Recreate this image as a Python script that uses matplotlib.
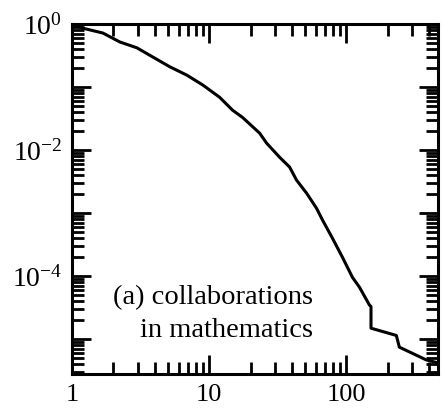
import math
import matplotlib
matplotlib.use("Agg")
import matplotlib.pyplot as plt
from matplotlib.ticker import LogLocator, FuncFormatter, NullFormatter

plt.rcParams['font.family'] = ['Liberation Serif', 'DejaVu Serif']
plt.rcParams['mathtext.fontset'] = 'custom'
plt.rcParams['mathtext.rm'] = 'Liberation Serif'
plt.rcParams['mathtext.it'] = 'Liberation Serif:italic'

# cumulative distribution of number of collaborators
collaborators = [1, 1.2, 1.68, 2.23, 2.97, 3.88, 5.16, 6.86, 8.97, 11.9, 14.8,
                 17.5, 23.3, 26.2, 32.6, 38.5, 43.3, 51.2, 60.5, 66.9, 79.1,
                 93.5, 110.6, 124.4, 147, 151, 151, 231, 243, 302, 382, 451]
cumulative = [1.0, 0.86, 0.72, 0.52, 0.42, 0.30, 0.21, 0.155, 0.108, 0.069,
              0.043, 0.033, 0.0186, 0.0129, 0.0077, 0.0054, 0.00334, 0.00208,
              0.0012, 7.8e-4, 4.0e-4, 2.0e-4, 9.6e-5, 6.7e-5, 3.5e-5, 3.3e-5,
              1.5e-5, 1.15e-5, 7.5e-6, 6.0e-6, 4.7e-6, 4.3e-6]

labelled_y_exponents = [0, -2, -4]
panel_line1 = "(a) collaborations"
panel_line2 = "in mathematics"

fig = plt.figure(figsize=(4.42, 4.08), dpi=100)
ax = fig.add_axes([0.163, 0.083, 0.828, 0.858])

ax.plot(collaborators, cumulative, color='black', linewidth=2.2)
ax.set_xscale('log')
ax.set_yscale('log')
ax.set_xlim(1, 465)
ax.set_ylim(2.8e-6, 1.0)

ax.xaxis.set_major_locator(LogLocator(base=10, numticks=10))
ax.xaxis.set_minor_locator(LogLocator(base=10, subs=range(2, 10), numticks=20))
ax.xaxis.set_major_formatter(FuncFormatter(lambda v, p: f"{v:g}"))
ax.xaxis.set_minor_formatter(NullFormatter())

ax.yaxis.set_major_locator(LogLocator(base=10, numticks=10))
ax.yaxis.set_minor_locator(LogLocator(base=10, subs=range(2, 10), numticks=20))


def ylab(v, p):
    e = int(round(math.log10(v)))
    if e in labelled_y_exponents:
        return r"$\mathdefault{10^{%d}}$" % e
    return ""


ax.yaxis.set_major_formatter(FuncFormatter(ylab))
ax.yaxis.set_minor_formatter(NullFormatter())

ax.tick_params(which='both', direction='in', top=True, right=True, width=2.0)
ax.tick_params(which='major', length=14, pad=7)
ax.tick_params(which='minor', length=8.5)
ax.tick_params(axis='x', labelsize=19)
ax.tick_params(axis='y', labelsize=20)
for s in ax.spines.values():
    s.set_linewidth(2.2)

# panel caption, both lines ending at the same right edge
xr = (313 - 72) / (438 - 72)
ax.text(xr, (374 - 297) / 350, panel_line1, transform=ax.transAxes,
        fontsize=20.5, va='center', ha='right')
ax.text(xr, (374 - 330) / 350, panel_line2, transform=ax.transAxes,
        fontsize=20.5, va='center', ha='right')

fig.savefig("out.png", dpi=100)
